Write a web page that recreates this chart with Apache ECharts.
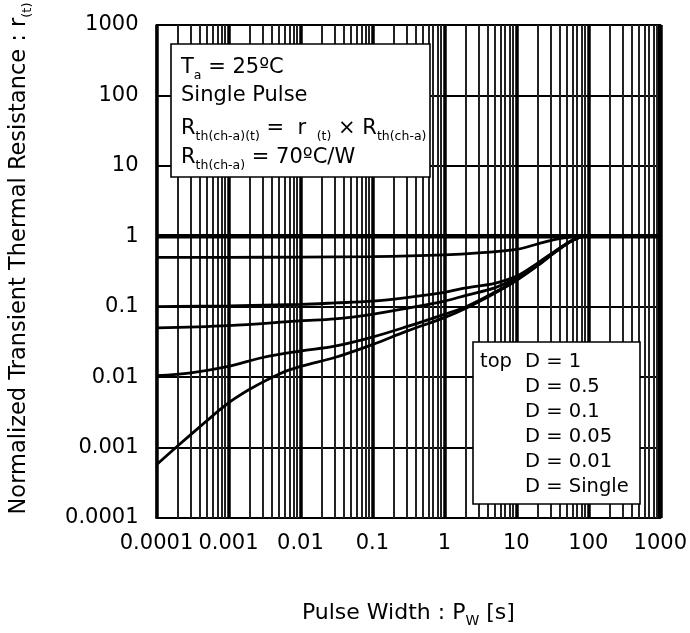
<!DOCTYPE html>
<html>
<head>
<meta charset="utf-8">
<title>Normalized Transient Thermal Resistance</title>
<script src="https://cdn.jsdelivr.net/npm/echarts@6/dist/echarts.min.js"></script>
<style>
  html, body { margin: 0; padding: 0; background: #fff; }
  #chart { width: 690px; height: 633px; }
</style>
</head>
<body>
<div id="chart"></div>
<script>
// Tick labels for both log axes (one per decade)
const xTickLabels = ['0.0001', '0.001', '0.01', '0.1', '1', '10', '100', '1000'];
const yTickLabels = ['0.0001', '0.001', '0.01', '0.1', '1', '10', '100', '1000'];

// Duty-cycle curves: [pulse width (s), normalized r(t)]
const dutyOne = [[0.0001, 1], [1000, 1]];
const dutyHalf = [[0.0001, 0.5], [0.001, 0.502], [0.01, 0.506], [0.1, 0.515], [1, 0.545], [3, 0.58], [10, 0.65], [20, 0.78], [35, 0.9], [55, 0.97], [80, 1], [1000, 1]];
const dutyTenth = [[0.0001, 0.1], [0.001, 0.103], [0.01, 0.108], [0.03, 0.113], [0.1, 0.12], [0.3, 0.135], [1, 0.16], [2, 0.185], [5, 0.215], [10, 0.27], [20, 0.42], [35, 0.62], [60, 0.88], [90, 1], [1000, 1]];
const dutyFive = [[0.0001, 0.05], [0.001, 0.054], [0.01, 0.063], [0.03, 0.067], [0.1, 0.078], [0.3, 0.095], [1, 0.12], [2, 0.145], [5, 0.185], [10, 0.255], [20, 0.41], [35, 0.61], [60, 0.87], [90, 1], [1000, 1]];
const dutyOnePct = [[0.0001, 0.0105], [0.0003, 0.0115], [0.001, 0.0142], [0.003, 0.019], [0.01, 0.0235], [0.03, 0.0275], [0.1, 0.037], [0.3, 0.052], [1, 0.078], [2, 0.1], [5, 0.16], [10, 0.24], [20, 0.39], [35, 0.6], [60, 0.87], [90, 1], [1000, 1]];
const singlePulse = [[0.0001, 0.00057], [0.0002, 0.00107], [0.0005, 0.0024], [0.0008, 0.0036], [0.0012, 0.0049], [0.002, 0.0068], [0.005, 0.011], [0.01, 0.0142], [0.03, 0.019], [0.1, 0.029], [0.3, 0.045], [1, 0.07], [2, 0.095], [5, 0.155], [10, 0.235], [20, 0.385], [35, 0.6], [60, 0.87], [90, 1], [1000, 1]];

// Legend lines inside the lower-right box
const legendPrefix = 'top';
const legendEntries = ['D = 1', 'D = 0.5', 'D = 0.1', 'D = 0.05', 'D = 0.01', 'D = Single'];

// Log-decade minor grid positions (2..9 × 10^n)
const minorMultipliers = [2, 3, 4, 5, 6, 7, 8, 9];
const decadeExponents = [-4, -3, -2, -1, 0, 1, 2];
const axisMin = 0.0001;
const axisMax = 1000;

const FONT = '"DejaVu Sans", Verdana, sans-serif';
const INK = '#000';

// vertical rules spanning the full value range, placed through the axes
const gridRules = [];
decadeExponents.forEach(function (e) {
  minorMultipliers.forEach(function (m) {
    const v = Number((m * Math.pow(10, e)).toPrecision(6));
    gridRules.push({ coords: [[v, axisMin], [v, axisMax]] });
  });
});
// heavy right-hand frame at the last decade
gridRules.push({ coords: [[axisMax, axisMin], [axisMax, axisMax]], lineStyle: { width: 5, color: '#000' } });

function decadeLabel(list) {
  return function (v) {
    const i = Math.round(Math.log10(v)) + 4;
    return list[i] !== undefined ? list[i] : '';
  };
}

function curve(name, data, width) {
  return {
    name: name,
    type: 'line',
    data: data,
    smooth: 0.35,
    showSymbol: false,
    symbol: 'none',
    silent: true,
    z: 5,
    lineStyle: { color: '#000', width: width },
    animation: false
  };
}

const richBox = {
  m: { fontSize: 21, fontFamily: FONT, fill: INK, color: INK, verticalAlign: 'middle', lineHeight: 28 },
  s: { fontSize: 12.5, fontFamily: FONT, fill: INK, color: INK, verticalAlign: 'bottom', lineHeight: 16 }
};

function richLine(text, x, y) {
  return {
    type: 'text',
    x: x,
    y: y,
    z: 20,
    style: {
      text: text,
      fontSize: 21,
      fontFamily: FONT,
      fill: INK,
      verticalAlign: 'middle',
      rich: richBox
    }
  };
}

const chart = echarts.init(document.getElementById('chart'));

const graphics = [
  // condition box, upper left
  { type: 'rect', shape: { x: 171, y: 44, width: 259, height: 133 }, z: 15,
    style: { fill: '#fff', stroke: '#000', lineWidth: 1.6 } },
  richLine('{m|T}{s|a}{m| = 25ºC}', 181, 68),
  richLine('{m|Single Pulse}', 181, 96),
  richLine('{m|R}{s|th(ch-a)(t)}{m| =  r }{s| (t)}{m| × R}{s|th(ch-a)}', 181, 129),
  richLine('{m|R}{s|th(ch-a)}{m| = 70ºC/W}', 181, 158),
  // legend box, lower right
  { type: 'rect', shape: { x: 473, y: 342, width: 167, height: 162 }, z: 15,
    style: { fill: '#fff', stroke: '#000', lineWidth: 1.6 } },
  { type: 'text', x: 480, y: 362, z: 20,
    style: { text: legendPrefix, fontSize: 19.5, fontFamily: FONT, fill: INK, verticalAlign: 'middle' } }
];
legendEntries.forEach(function (t, i) {
  graphics.push({ type: 'text', x: 525, y: 362.3 + i * 24.9, z: 20,
    style: { text: t, fontSize: 19.5, fontFamily: FONT, fill: INK, verticalAlign: 'middle' } });
});

chart.setOption({
  animation: false,
  backgroundColor: '#fff',
  grid: {
    left: 155, right: 27, top: 24, bottom: 114,
    show: true, borderColor: '#000', borderWidth: 1.8, backgroundColor: '#fff'
  },
  xAxis: {
    type: 'log', logBase: 10, min: axisMin, max: axisMax, splitNumber: 7,
    name: '{m|Pulse Width : P}{s|W}{m| [s]}',
    nameLocation: 'middle', nameGap: 80,
    nameTextStyle: {
      fontFamily: FONT, color: INK, fontSize: 22,
      rich: {
        m: { fontSize: 22, fontFamily: FONT, color: INK, verticalAlign: 'middle', lineHeight: 30 },
        s: { fontSize: 14, fontFamily: FONT, color: INK, verticalAlign: 'bottom', lineHeight: 18 }
      }
    },
    axisLine: { show: true, lineStyle: { color: '#000', width: 1.8 } },
    axisTick: { show: false },
    minorTick: { show: false },
    axisLabel: { formatter: decadeLabel(xTickLabels), fontFamily: FONT, fontSize: 21, color: INK, margin: 15 },
    splitLine: { show: true, lineStyle: { color: '#000', width: 3.5 } }
  },
  yAxis: {
    type: 'log', logBase: 10, min: axisMin, max: axisMax, splitNumber: 7,
    name: '{m|Normalized Transient Thermal Resistance : r}{s|(t)}',
    nameLocation: 'middle', nameGap: 122, nameRotate: 90,
    nameTextStyle: {
      fontFamily: FONT, color: INK, fontSize: 22.5,
      padding: [0, 0, 0, 26],
      rich: {
        m: { fontSize: 22.5, fontFamily: FONT, color: INK, verticalAlign: 'middle', lineHeight: 30 },
        s: { fontSize: 13, fontFamily: FONT, color: INK, verticalAlign: 'bottom', lineHeight: 18 }
      }
    },
    axisLine: { show: true, lineStyle: { color: '#000', width: 1.8 } },
    axisTick: { show: false },
    axisLabel: { formatter: decadeLabel(yTickLabels), fontFamily: FONT, fontSize: 21, color: INK, margin: 18 },
    splitLine: { show: true, lineStyle: { color: '#000', width: 1.8 } }
  },
  series: [
    {
      name: 'minor grid',
      type: 'lines',
      coordinateSystem: 'cartesian2d',
      silent: true,
      z: 1,
      animation: false,
      lineStyle: { color: '#222', width: 2, opacity: 1 },
      data: gridRules
    },
    curve('D = Single', singlePulse, 2.8),
    curve('D = 0.01', dutyOnePct, 2.8),
    curve('D = 0.05', dutyFive, 2.8),
    curve('D = 0.1', dutyTenth, 2.8),
    curve('D = 0.5', dutyHalf, 2.8),
    curve('D = 1', dutyOne, 4.4)
  ],
  graphic: graphics
});
</script>
</body>
</html>
